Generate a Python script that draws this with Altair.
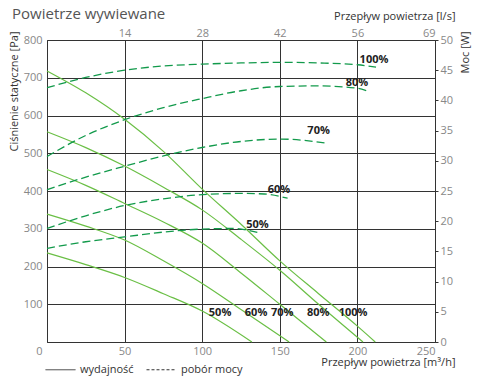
import altair as alt
import pandas as pd

FONT = "Open Sans"

# Performance curves (flow m3/h, static pressure Pa)
perf_labels = ["100%", "80%", "70%", "60%", "50%"]
perf_100_x = [0, 25, 50, 75, 100, 125, 150, 175, 200, 211.5]
perf_100_y = [718, 660, 590, 505, 405, 312, 215, 128, 42, 0]
perf_80_x = [0, 25, 50, 75, 100, 125, 150, 175, 203.6]
perf_80_y = [557, 515, 466, 410, 350, 272, 190, 100, 0]
perf_70_x = [0, 25, 50, 75, 100, 125, 150, 180]
perf_70_y = [457, 415, 367, 318, 262, 183, 100, 0]
perf_60_x = [0, 25, 50, 75, 100, 125, 156]
perf_60_y = [339, 307, 270, 215, 155, 86, 0]
perf_50_x = [0, 25, 50, 75, 100, 132]
perf_50_y = [236, 205, 171, 128, 82, 0]

# Power curves (flow m3/h, power W)
pow_100_x = [0, 25, 50, 75, 100, 125, 150, 175, 200, 212]
pow_100_y = [42.1, 43.8, 45.0, 45.7, 46.0, 46.2, 46.3, 46.2, 45.9, 45.5]
pow_80_x = [0, 25, 50, 75, 100, 125, 150, 175, 200, 206]
pow_80_y = [30.7, 34.2, 36.8, 38.8, 40.3, 41.6, 42.3, 42.4, 42.0, 41.6]
pow_70_x = [0, 25, 50, 75, 100, 125, 150, 181]
pow_70_y = [25.2, 27.3, 29.1, 30.8, 32.2, 33.2, 33.6, 32.9]
pow_60_x = [0, 25, 50, 75, 100, 125, 140, 155]
pow_60_y = [18.8, 20.9, 22.6, 23.7, 24.4, 24.6, 24.5, 23.8]
pow_50_x = [0, 25, 50, 75, 100, 120, 136]
pow_50_y = [15.5, 16.6, 17.4, 18.2, 18.7, 18.8, 18.1]

# Curve labels
perf_lab_text = ["50%", "60%", "70%", "80%", "100%"]
perf_lab_x = [111.5, 134.7, 151.5, 174.7, 197.2]
perf_lab_y = [77, 77, 77, 77, 77]
pow_lab_text = ["100%", "80%", "70%", "60%", "50%"]
pow_lab_x = [210.7, 199.7, 175.0, 149.5, 135.6]
pow_lab_y = [46.7, 42.8, 34.9, 25.2, 19.4]

# Axis ticks
x_ticks = [0, 50, 100, 150, 200, 250]
top_ticks = [50, 100, 150, 200, 250]
top_tick_labels = ["14", "28", "42", "56", "69"]
pa_ticks = [0, 100, 200, 300, 400, 500, 600, 700, 800]
w_ticks = [0, 5, 10, 15, 20, 25, 30, 35, 40, 45, 50]
legend_kinds = ["wydajność", "pobór mocy"]

perf_series = [(perf_labels[0], perf_100_x, perf_100_y), (perf_labels[1], perf_80_x, perf_80_y),
               (perf_labels[2], perf_70_x, perf_70_y), (perf_labels[3], perf_60_x, perf_60_y),
               (perf_labels[4], perf_50_x, perf_50_y)]
pow_series = [(perf_labels[0], pow_100_x, pow_100_y), (perf_labels[1], pow_80_x, pow_80_y),
              (perf_labels[2], pow_70_x, pow_70_y), (perf_labels[3], pow_60_x, pow_60_y),
              (perf_labels[4], pow_50_x, pow_50_y)]

perf_df = pd.DataFrame([{"curve": c, "q": x, "v": y} for c, xs, ys in perf_series for x, y in zip(xs, ys)])
pow_df = pd.DataFrame([{"curve": c, "q": x, "v": y} for c, xs, ys in pow_series for x, y in zip(xs, ys)])
perf_lab_df = pd.DataFrame({"t": perf_lab_text, "q": perf_lab_x, "v": perf_lab_y})
pow_lab_df = pd.DataFrame({"t": pow_lab_text, "q": pow_lab_x, "v": pow_lab_y})
legend_df = pd.DataFrame({"kind": legend_kinds})

x_scale = alt.Scale(domain=[0, 250], nice=False, zero=False)
pa_scale = alt.Scale(domain=[0, 800], nice=False)
w_scale = alt.Scale(domain=[0, 50], nice=False)

top_expr = " : ".join(f"datum.value == {v} ? '{t}'" for v, t in zip(top_ticks, top_tick_labels)) + " : ''"

solid = alt.Chart(perf_df).mark_line(color="#6abf45", strokeWidth=1.2, interpolate="monotone").encode(
    x=alt.X("q:Q", scale=x_scale, axis=alt.Axis(
        orient="bottom", values=x_ticks, grid=True, ticks=False, labelPadding=3,
        labelExpr="datum.value == 0 ? '' : datum.label",
        title="Przepływ powietrza [m³/h]", titleAlign="right", titleBaseline="middle",
        titleX=408, titleY=20)),
    y=alt.Y("v:Q", scale=pa_scale, axis=alt.Axis(
        orient="left", values=pa_ticks, grid=True, ticks=False, labelPadding=5,
        labelOffset={"condition": {"test": "datum.value === 0", "value": 9}, "value": 0},
        title="Ciśnienie statyczne [Pa]", titleAngle=270, titleAlign="right",
        titleBaseline="middle", titleX=-33, titleY=-9)),
    detail="curve:N",
)

solid_lab = alt.Chart(perf_lab_df).mark_text(font=FONT, fontSize=11, fontWeight="bold", color="#222").encode(
    x=alt.X("q:Q", scale=x_scale, axis=None),
    y=alt.Y("v:Q", scale=pa_scale, axis=None),
    text="t:N",
)

dashed = alt.Chart(pow_df).mark_line(color="#129a4b", strokeWidth=1.3, strokeDash=[8, 4], interpolate="monotone").encode(
    x=alt.X("q:Q", scale=x_scale, axis=alt.Axis(
        orient="top", values=top_ticks, grid=False, ticks=False, labelPadding=2,
        labelExpr=top_expr,
        title="Przepływ powietrza [l/s]", titleAlign="right", titleBaseline="middle",
        titleX=408, titleY=-24)),
    y=alt.Y("v:Q", scale=w_scale, axis=alt.Axis(
        orient="right", values=w_ticks, grid=False, ticks=True, tickSize=3, labelPadding=2,
        title="Moc [W]", titleAngle=270, titleAlign="right", titleBaseline="middle",
        titleX=30, titleY=-9)),
    detail="curve:N",
)

dashed_lab = alt.Chart(pow_lab_df).mark_text(font=FONT, fontSize=11, fontWeight="bold", color="#222").encode(
    x=alt.X("q:Q", scale=x_scale, axis=None),
    y=alt.Y("v:Q", scale=w_scale, axis=None),
    text="t:N",
)

legend_layer = alt.Chart(legend_df).mark_line(color="#333", opacity=0).encode(
    x=alt.value(0),
    y=alt.value(0),
    strokeDash=alt.StrokeDash("kind:N", scale=alt.Scale(domain=legend_kinds, range=[[1, 0], [3, 2]]),
                              legend=alt.Legend(title=None, orient="none", direction="horizontal",
                                                legendX=-2, legendY=314, symbolType="stroke",
                                                symbolSize=900, symbolOpacity=1,
                                                symbolStrokeColor="#333", symbolStrokeWidth=1,
                                                labelFont=FONT, labelFontSize=11, labelColor="#333",
                                                columnPadding=10, labelOffset=4)),
)

chart = alt.layer(solid, solid_lab, dashed, dashed_lab, legend_layer).resolve_scale(
    y="independent"
).resolve_axis(x="independent", y="independent").properties(
    width=388, height=302,
    autosize=alt.AutoSizeParams(type="none"),
    padding={"left": 39, "top": 32, "right": 37, "bottom": 34},
    title=alt.TitleParams("Powietrze wywiewane", anchor="start", fontSize=15, color="#555",
                          font=FONT, fontWeight="normal", dx=4, dy=28, baseline="alphabetic"),
).configure_view(stroke=None).configure_axis(
    labelFont=FONT, labelFontSize=11, labelColor="#888",
    titleFont=FONT, titleFontSize=11, titleColor="#333", titleFontWeight="normal",
    domainColor="#333", gridColor="#333", tickColor="#333", gridOpacity=1,
)

chart.save("out.html", embed_options={"renderer": "svg", "actions": False})
